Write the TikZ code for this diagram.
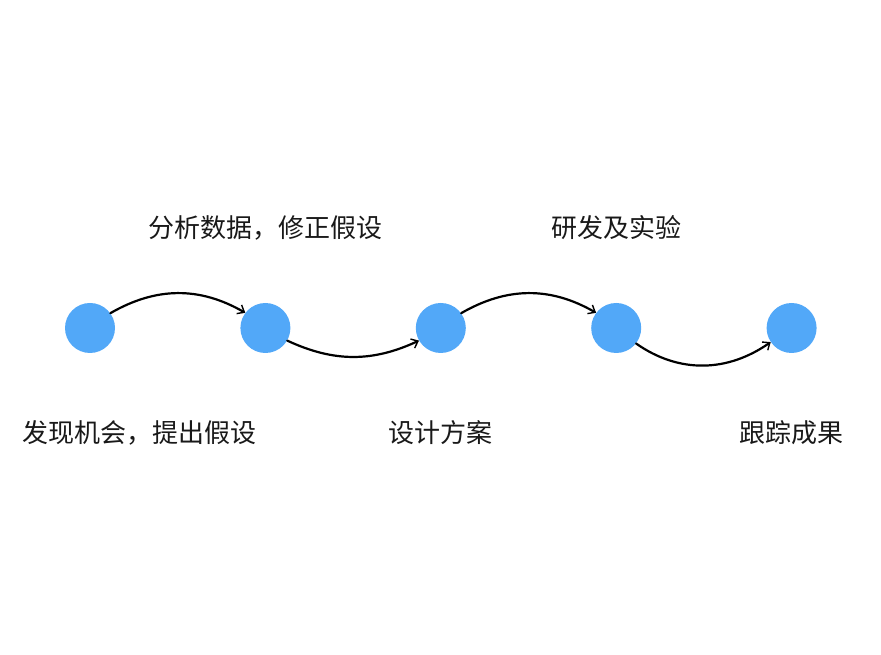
\documentclass[tikz,border=0pt]{standalone}
\usepackage{fontspec}
\setmainfont{Noto Sans CJK SC}
\usepackage{tikz}
\usetikzlibrary{positioning, arrows.meta}
\definecolor{dotblue}{RGB}{82,168,248}
\tikzstyle{dot}=[%
      circle, draw=none, fill=dotblue,
      minimum size=50pt, inner sep=0pt
]
\tikzstyle{lbl}=[%
      inner sep=0pt, font=\fontsize{26}{30}\selectfont, text=black!90
]
\tikzstyle{stroke}=[%
      draw=black, line width=2.2pt, line cap=round
]

\begin{document}
\begin{tikzpicture}[x=1pt, y=1pt,
    -{Straight Barb[length=6pt,width=10pt,line width=1.4pt]}
  ]
    \useasboundingbox (0,0) rectangle (881,655);
    \node[dot] (c1) at (90,327) {};
    \node[dot] (c2) [right = 125pt of c1] {};
    \node[dot] (c3) [right = 125pt of c2] {};
    \node[dot] (c4) [right = 125pt of c3] {};
    \node[dot] (c5) [right = 125pt of c4] {};

    \node[lbl] (up2) at ([yshift=100pt]c2) {分析数据，修正假设};
    \node[lbl] (up4) at ([yshift=100pt]c4) {研发及实验};
    \node[lbl] (dn1) at ([xshift=50pt, yshift=-105pt]c1) {发现机会，提出假设};
    \node[lbl] (dn3) at ([yshift=-105pt]c3) {设计方案};
    \node[lbl] (dn5) at ([yshift=-105pt]c5) {跟踪成果};

    \path (c1.36) edge[stroke, out=30, in=150] (c2.143)
          (c2.-30) edge[stroke, out=-25, in=-155] (c3.-150)
          (c3.36) edge[stroke, out=30, in=150] (c4.143)
          (c4.-38) edge[stroke, out=-35, in=-145] (c5.-146)
    ;

  \end{tikzpicture}
\end{document}
